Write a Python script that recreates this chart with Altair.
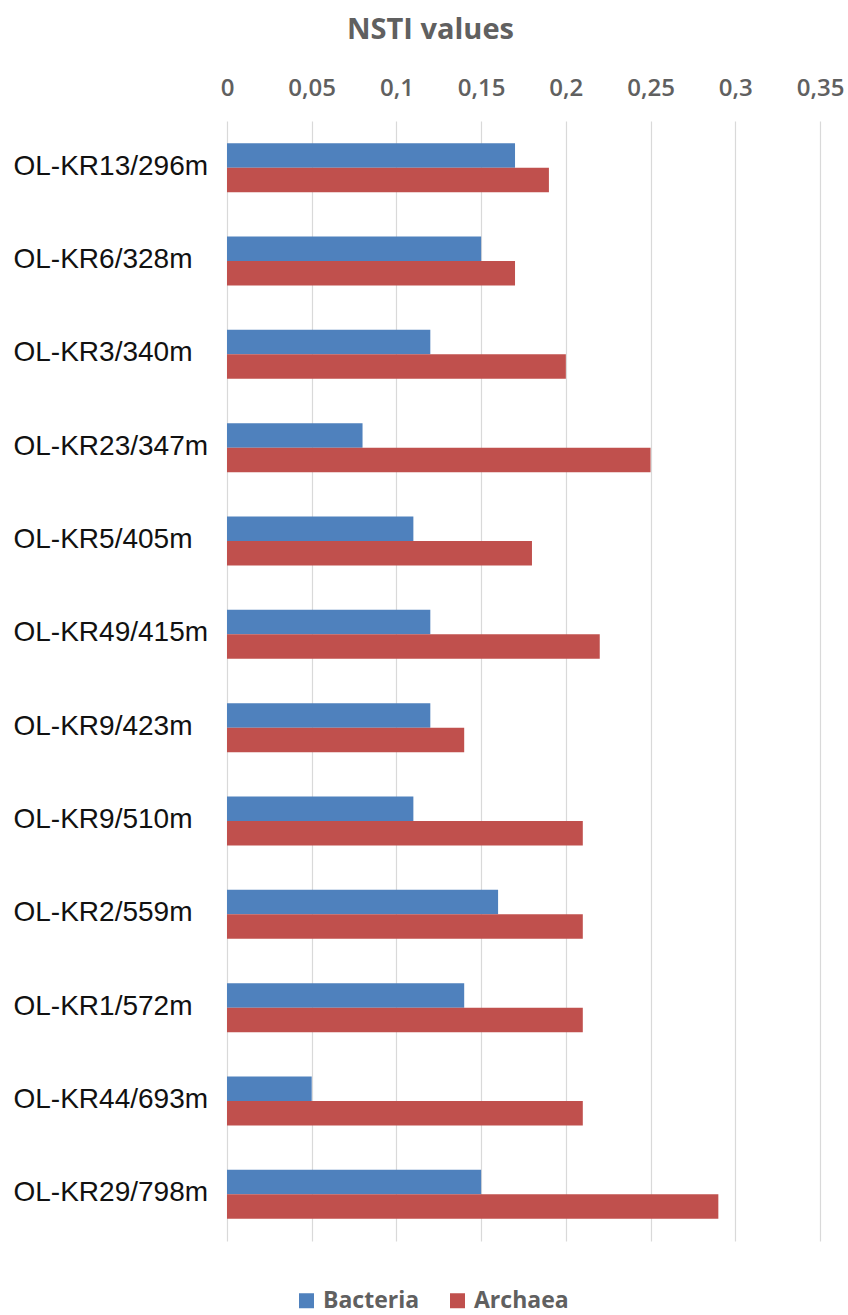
import altair as alt
import pandas as pd

samples = ["OL-KR13/296m", "OL-KR6/328m", "OL-KR3/340m", "OL-KR23/347m",
           "OL-KR5/405m", "OL-KR49/415m", "OL-KR9/423m", "OL-KR9/510m",
           "OL-KR2/559m", "OL-KR1/572m", "OL-KR44/693m", "OL-KR29/798m"]
bacteria = [0.17, 0.15, 0.12, 0.08, 0.11, 0.12, 0.12, 0.11, 0.16, 0.14, 0.05, 0.15]
archaea = [0.19, 0.17, 0.20, 0.25, 0.18, 0.22, 0.14, 0.21, 0.21, 0.21, 0.21, 0.29]
series = ["Bacteria", "Archaea"]
colors = ["#4F81BD", "#C0504D"]
x_ticks = [0, 0.05, 0.1, 0.15, 0.2, 0.25, 0.3, 0.35]

rows = []
for s, b, a in zip(samples, bacteria, archaea):
    rows.append({"sample": s, "series": "Bacteria", "value": b})
    rows.append({"sample": s, "series": "Archaea", "value": a})
df = pd.DataFrame(rows)

chart = alt.Chart(df).mark_bar().encode(
    y=alt.Y("sample:N", sort=samples,
            scale=alt.Scale(paddingInner=0.475, paddingOuter=0.2375),
            axis=alt.Axis(title=None, labelFont="Liberation Sans", labelFontSize=28,
                          labelColor="#111111", labelPadding=214, labelAlign="left",
                          ticks=False, domain=False, grid=False, labelLimit=400,
                          labelOffset=-1)),
    yOffset=alt.YOffset("series:N", sort=series,
                        scale=alt.Scale(paddingInner=0, paddingOuter=0)),
    x=alt.X("value:Q", scale=alt.Scale(domain=[0, 0.35], nice=False),
            axis=alt.Axis(orient="top", values=x_ticks,
                          labelExpr="replace(toString(datum.value), '.', ',')",
                          labelFont="Open Sans", labelFontWeight=600, labelFontSize=24,
                          labelColor="#606060", labelPadding=26, labelBaseline="alphabetic",
                          labelFlush=False, labelOverlap=False,
                          ticks=False, domain=False, grid=True, gridColor="#d9d9d9",
                          gridWidth=1.2,
                          title="NSTI values", titleFont="Open Sans", titleFontSize=29,
                          titleFontWeight="bold", titleColor="#606060",
                          titleX=203, titleY=-83, titleAlign="center",
                          titleBaseline="alphabetic", titleAnchor="start")),
    color=alt.Color("series:N", sort=series,
                    scale=alt.Scale(domain=series, range=colors),
                    legend=alt.Legend(title=None, orient="none", legendX=68, legendY=1168,
                                      direction="horizontal", symbolType="square",
                                      symbolSize=225, symbolStrokeWidth=0,
                                      labelFont="Open Sans", labelFontWeight="bold",
                                      labelFontSize=23, labelColor="#606060",
                                      labelOffset=5, columnPadding=26, padding=0)),
).properties(
    width=593, height=1120,
    autosize=alt.AutoSizeParams(type="none"),
    padding={"left": 227, "top": 121, "right": 28, "bottom": 74},
    background="white",
).configure_view(stroke=None)

chart.save("out.html", embed_options={"renderer": "svg", "actions": False})
